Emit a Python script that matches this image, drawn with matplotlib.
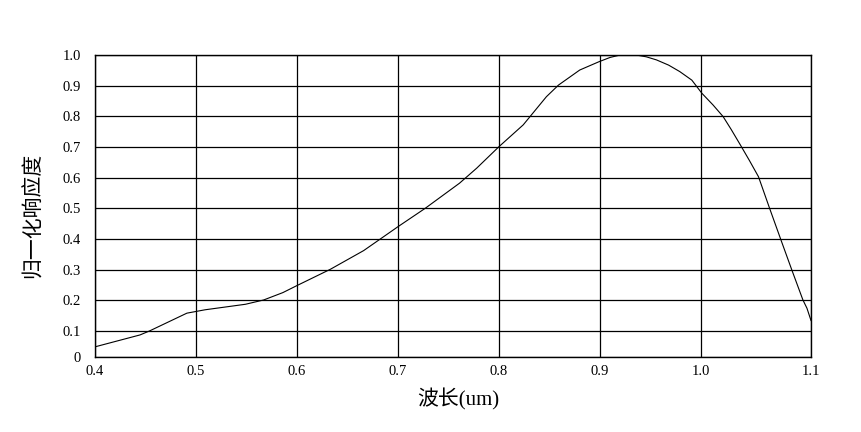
import matplotlib
matplotlib.use("Agg")
import matplotlib.pyplot as plt
import numpy as np

wavelength = [0.401, 0.4446, 0.454, 0.491, 0.509, 0.549, 0.567, 0.586, 0.600, 0.633, 0.666,
              0.700, 0.727, 0.761, 0.778, 0.800, 0.824, 0.847, 0.859, 0.880, 0.899, 0.910, 0.920,
              0.936, 0.946, 0.956, 0.968, 0.979, 0.991, 1.001, 1.012, 1.022, 1.030, 1.039, 1.048, 1.057,
              1.068, 1.079, 1.090, 1.101, 1.105, 1.109]
response = [0.049, 0.087, 0.100, 0.158, 0.169, 0.187, 0.201, 0.225, 0.248, 0.301, 0.362,
            0.440, 0.500, 0.582, 0.631, 0.701, 0.772, 0.864, 0.902, 0.951, 0.978, 0.992, 1.000,
            1.000, 0.994, 0.984, 0.967, 0.946, 0.918, 0.875, 0.837, 0.799, 0.757, 0.707, 0.656, 0.603,
            0.500, 0.399, 0.299, 0.201, 0.174, 0.134]

x_ticks = [0.4, 0.5, 0.6, 0.7, 0.8, 0.9, 1.0, 1.109]
x_labels = ["0.4", "0.5", "0.6", "0.7", "0.8", "0.9", "1.0", "1.1"]
y_ticks = [0.015, 0.1, 0.2, 0.3, 0.4, 0.5, 0.6, 0.7, 0.8, 0.9, 1.0]
y_labels = ["0", "0.1", "0.2", "0.3", "0.4", "0.5", "0.6", "0.7", "0.8", "0.9", "1.0"]

fig = plt.figure(figsize=(8.61, 4.32), dpi=100)
ax = fig.add_axes([95/861, 1 - 357/432, (811-95)/861, (357-55)/432])

ax.plot(wavelength, response, color="black", linewidth=0.8)
ax.set_xlim(0.4, 1.109)
ax.set_ylim(0.015, 1.0)
ax.set_xticks(x_ticks)
ax.set_xticklabels(x_labels, fontfamily="Liberation Serif", fontsize=10.5)
ax.set_yticks(y_ticks)
ax.set_yticklabels(y_labels, fontfamily="Liberation Serif", fontsize=10.5)
ax.tick_params(axis="both", length=0)
ax.tick_params(axis="y", pad=10)
ax.tick_params(axis="x", pad=6)
ax.grid(True, color="black", linewidth=0.9)
for s in ax.spines.values():
    s.set_color("black")
    s.set_linewidth(1.0)

ax.set_xlabel("波长(um)", fontfamily=["Liberation Serif", "Noto Sans CJK SC"], fontsize=15)
ax.set_ylabel("归一化响应度", fontfamily=["Noto Sans CJK SC", "DejaVu Sans"], fontsize=15)
ax.xaxis.set_label_coords((458-95)/716, -(388-357)/302)
ax.yaxis.set_label_coords(-(95-44)/716, (357-215)/302)

fig.savefig("out.png", dpi=100)
